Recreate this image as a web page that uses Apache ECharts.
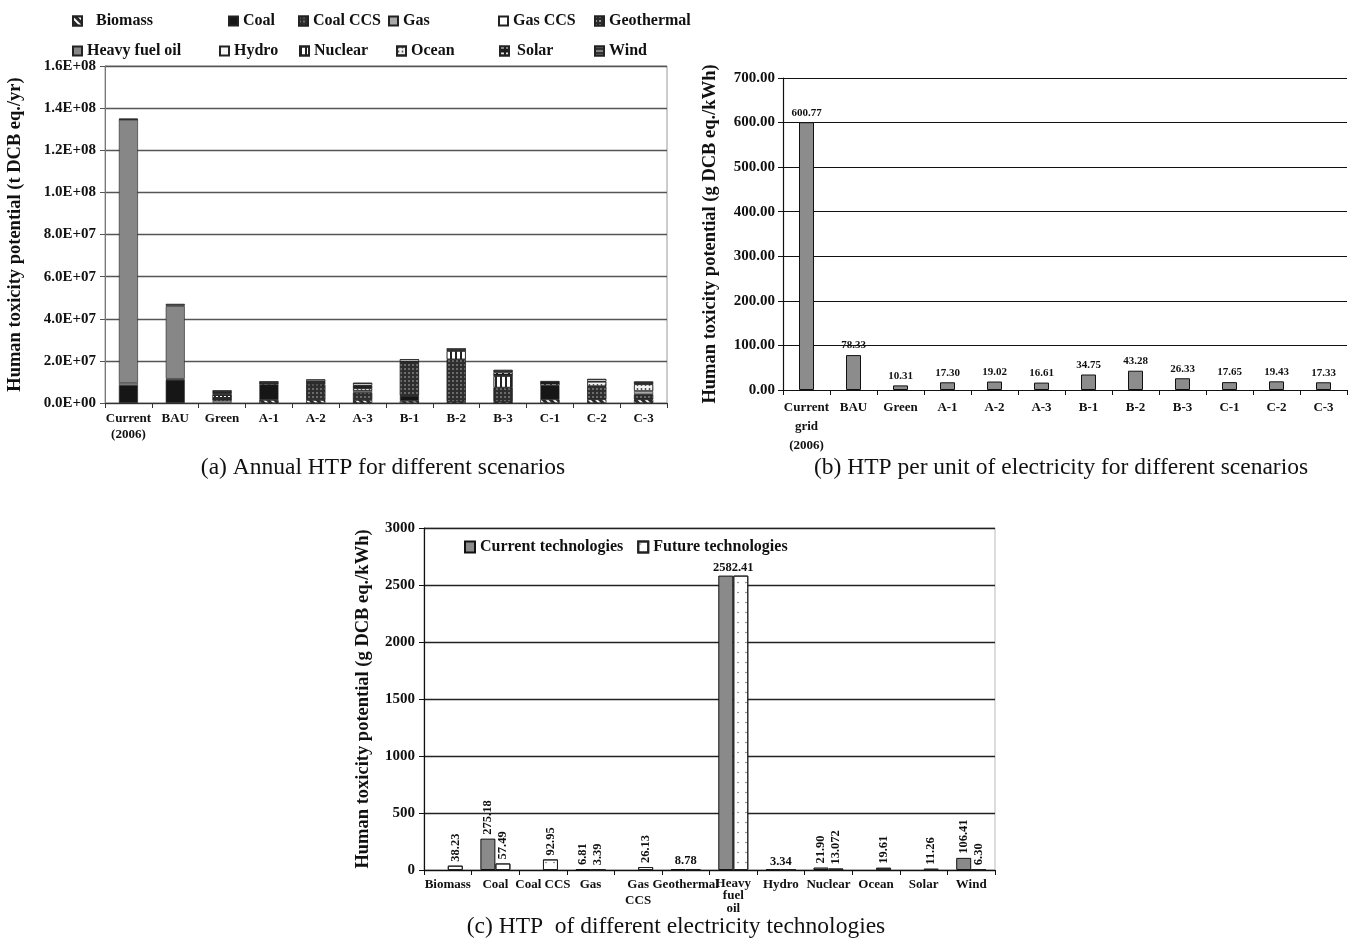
<!DOCTYPE html>
<html><head><meta charset="utf-8">
<script src="https://cdn.jsdelivr.net/npm/echarts@6/dist/echarts.min.js"></script>
<style>html,body{margin:0;padding:0;background:#fff}#c{width:1352px;height:939px}</style>
</head><body><div id="c"></div>
<script>
// ---------- DATA ----------
const scenarioCats = ['Current\n(2006)','BAU','Green','A-1','A-2','A-3','B-1','B-2','B-3','C-1','C-2','C-3'];
const techNames = ['Biomass','Coal','Coal CCS','Gas','Gas CCS','Geothermal','Heavy fuel oil','Hydro','Nuclear','Ocean','Solar','Wind'];
// (a) annual HTP, t DCB eq./yr, per technology per scenario
const biomassA    = [0, 0, 0, 1.4e6, 1.4e6, 1.4e6, 1.0e6, 0.6e6, 0.6e6, 1.7e6, 1.7e6, 1.7e6];
const coalA       = [8.5e6, 1.1e7, 0, 7.3e6, 0, 0, 2.4e6, 0, 0, 6.8e6, 0, 0];
const coalCcsA    = [0, 0, 0, 0, 7.3e6, 3.6e6, 1.63e7, 2.01e7, 6.7e6, 0, 6.3e6, 2.4e6];
const gasA        = [1.0e6, 0.5e6, 1.1e6, 0, 0, 0.8e6, 0, 0, 0, 0, 0, 1.6e6];
const gasCcsA     = [0, 0, 0, 0, 0, 0, 0, 0, 0, 0, 0, 0];
const geothermalA = [0, 0, 2.9e6, 0, 0.8e6, 0, 0, 0, 0, 0, 0, 0];
const hfoA        = [1.25e8, 3.45e7, 0, 0, 0, 0, 0, 0, 0, 0, 0, 0];
const hydroA      = [0, 0.5e6, 0, 0, 0, 0, 0, 0, 0, 0, 0, 0];
const nuclearA    = [0, 0, 0, 0, 0, 0, 0, 4.0e6, 5.5e6, 0, 0, 0];
const oceanA      = [0, 0, 0.6e6, 0, 0, 1.2e6, 0, 0, 0, 0, 2.1e6, 3.2e6];
const solarA      = [0, 0, 0.6e6, 0.8e6, 0.9e6, 1.2e6, 0, 0, 1.6e6, 1.9e6, 0, 0];
const windA       = [0.5e6, 0.5e6, 0.8e6, 0.8e6, 0.8e6, 1.4e6, 1.1e6, 1.3e6, 1.3e6, 0, 1.3e6, 1.3e6];

// (b) HTP per kWh, g DCB eq./kWh
const scenarioCatsB = ['Current\ngrid\n(2006)','BAU','Green','A-1','A-2','A-3','B-1','B-2','B-3','C-1','C-2','C-3'];
const perKwhB = [600.77, 78.33, 10.31, 17.30, 19.02, 16.61, 34.75, 43.28, 26.33, 17.65, 19.43, 17.33];

// (c) HTP of technologies, g DCB eq./kWh
const techCatsC = ['Biomass','Coal','Coal CCS','Gas','Gas\nCCS','Geothermal','Heavy\nfuel\noil','Hydro','Nuclear','Ocean','Solar','Wind'];
const currentC = [null, 275.18, null, 6.81, null, 8.78, 2582.41, 3.34, 21.90, null, null, 106.41];
const futureC  = [38.23, 57.49, 92.95, 3.39, 26.13, 8.78, 2582.41, 3.34, 13.072, 19.61, 11.26, 6.30];
const futureLabelTextC = ['38.23','57.49','92.95','3.39','26.13','','','','13.072','19.61','11.26','6.30'];
const currentLabelTextC = ['','275.18','','6.81','','8.78','2582.41','3.34','21.90','','','106.41'];

// ---------- STYLE / BUILD ----------
const FF = '"Liberation Serif","Times New Roman",serif';
const chart = echarts.init(document.getElementById('c'), null, {renderer:'canvas'});

const valuesA = [biomassA, coalA, coalCcsA, gasA, gasCcsA, geothermalA, hfoA, hydroA, nuclearA, oceanA, solarA, windA];
const stylesA = [
  {color:'#2a2a2a', decal:{symbol:'rect', color:'#ffffff', dashArrayX:[1,0], dashArrayY:[1.5,2.5], rotation:Math.PI/4}},
  {color:'#161616'},
  {color:'#2e2e2e', decal:{symbol:'circle', symbolSize:0.7, color:'#d8d8d8', dashArrayX:[2,1.5], dashArrayY:[2,1.5]}},
  {color:'#a9a9a9'},
  {color:'#ffffff'},
  {color:'#2a2a2a', decal:{symbol:'rect', color:'#ffffff', dashArrayX:[2,2], dashArrayY:[1,3]}},
  {color:'#878787'},
  {color:'#f4f4f4'},
  {color:'#ffffff', decal:{symbol:'rect', color:'#222222', dashArrayX:[1.2,2.3], dashArrayY:[1,0]}},
  {color:'#f2f2f2', decal:{symbol:'circle', symbolSize:0.9, color:'#444444', dashArrayX:[3,1], dashArrayY:[2,2]}},
  {color:'#1c1c1c', decal:{symbol:'rect', color:'#e8e8e8', dashArrayX:[4,2], dashArrayY:[1.2,4]}},
  {color:'#333333', decal:{symbol:'rect', color:'#cfcfcf', dashArrayX:[1,0], dashArrayY:[1,3]}}
];

const seriesA = techNames.map((n, i) => ({
  name: n, type:'bar', stack:'a', xAxisIndex:0, yAxisIndex:0, barWidth:19,
  data: valuesA[i].map(v => v ? v : null),
  itemStyle: Object.assign({borderColor:'#222', borderWidth:0.6}, stylesA[i]),
  emphasis:{disabled:true}
}));

// legend layout for (a): icon left x per row/col and extra text padding
const legIconX = [[67, 223, 293, 383, 493, 589],[67, 214, 294, 391, 494, 589]];
const legTextPad = [[9, 0, 0, 0, 0, 0],[0, 0, 0, 0, 3, 0]];
const legendsA = techNames.map((n, i) => {
  const row = Math.floor(i / 6), col = i % 6;
  return {
    data:[n], left: legIconX[row][col], top: row === 0 ? 8 : 38,
    itemWidth:9, itemHeight:9, icon:'rect', selectedMode:false,
    textStyle:{fontFamily:FF, fontWeight:'bold', fontSize:16, color:'#111', padding:[0,0,0,legTextPad[row][col]]}
  };
});

function expFmt(v){
  if (v === 0) return '0.0E+00';
  const e = Math.floor(Math.log10(v) + 1e-9);
  const m = (v / Math.pow(10, e)).toFixed(1);
  return m + 'E+' + String(e).padStart(2, '0');
}

const axisLbl = (sz) => ({fontFamily:FF, fontWeight:'bold', fontSize:sz, color:'#111'});
const nameSt = {fontFamily:FF, fontWeight:'bold', fontSize:18.5, color:'#111'};

const catLineHeightC = {'Gas\nCCS':16, 'Heavy\nfuel\noil':12.5};
const techCatItemsC = techCatsC.map(c => catLineHeightC[c] ? {value:c, textStyle:{lineHeight:catLineHeightC[c]}} : c);

const option = {
  animation:false,
  backgroundColor:'#fff',
  legend: legendsA.concat([{
    data:['Current technologies','Future technologies'], left:459, top:534,
    itemWidth:10, itemHeight:11, icon:'rect', itemGap:14, selectedMode:false,
    textStyle:{fontFamily:FF, fontWeight:'bold', fontSize:16, color:'#111'}
  }]),
  grid:[
    {left:105, top:66, width:562, height:337, show:true, borderColor:'#9a9a9a', borderWidth:1, backgroundColor:'transparent'},
    {left:783, top:78, width:564, height:312},
    {left:424, top:528, width:571, height:342, show:true, borderColor:'#bbbbbb', borderWidth:1, backgroundColor:'transparent'}
  ],
  xAxis:[
    {type:'category', gridIndex:0, data:scenarioCats,
     axisLine:{lineStyle:{color:'#333', width:1.2}}, axisTick:{show:true, length:5, lineStyle:{color:'#333'}},
     axisLabel:Object.assign({interval:0, margin:8, lineHeight:16}, axisLbl(13))},
    {type:'category', gridIndex:1, data:scenarioCatsB,
     axisLine:{lineStyle:{color:'#111', width:1.2}}, axisTick:{show:true, length:5, lineStyle:{color:'#111'}},
     axisLabel:Object.assign({interval:0, margin:8, lineHeight:19}, axisLbl(13))},
    {type:'category', gridIndex:2, data:techCatItemsC,
     axisLine:{lineStyle:{color:'#111', width:1.2}}, axisTick:{show:true, length:5, lineStyle:{color:'#111'}},
     axisLabel:Object.assign({interval:0, margin:7, lineHeight:15}, axisLbl(13))}
  ],
  yAxis:[
    {type:'value', gridIndex:0, min:0, max:1.6e8, interval:2e7,
     name:'Human toxicity potential (t DCB eq./yr)', nameLocation:'middle', nameGap:80, nameTextStyle:nameSt,
     axisLine:{show:true, lineStyle:{color:'#777'}}, axisTick:{show:true, length:5, lineStyle:{color:'#555'}},
     splitLine:{lineStyle:{color:'#555', width:1.3}},
     axisLabel:Object.assign({formatter:expFmt, margin:9}, axisLbl(15))},
    {type:'value', gridIndex:1, min:0, max:700, interval:100,
     name:'Human toxicity potential (g DCB eq./kWh)', nameLocation:'middle', nameGap:63, nameTextStyle:nameSt,
     axisLine:{show:true, lineStyle:{color:'#111', width:1.2}}, axisTick:{show:true, length:5, lineStyle:{color:'#111'}},
     splitLine:{lineStyle:{color:'#111', width:1.2}},
     axisLabel:Object.assign({formatter:v => v.toFixed(2), margin:8}, axisLbl(15))},
    {type:'value', gridIndex:2, min:0, max:3000, interval:500,
     name:'Human toxicity potential (g DCB eq./kWh)', nameLocation:'middle', nameGap:51, nameTextStyle:nameSt,
     axisLine:{show:true, lineStyle:{color:'#111', width:1.2}}, axisTick:{show:true, length:5, lineStyle:{color:'#111'}},
     splitLine:{lineStyle:{color:'#222', width:1.4}},
     axisLabel:Object.assign({formatter:v => String(v), margin:9}, axisLbl(15))}
  ],
  series: seriesA.concat([
    {type:'bar', name:'perkwh', xAxisIndex:1, yAxisIndex:1, barWidth:15, data:perKwhB,
     itemStyle:{color:'#8c8c8c', borderColor:'#111', borderWidth:1},
     label:{show:true, position:'top', distance:4, formatter:p => p.value.toFixed(2), fontFamily:FF, fontWeight:'bold', fontSize:11, color:'#111'},
     emphasis:{disabled:true}},
    {type:'bar', name:'Current technologies', xAxisIndex:2, yAxisIndex:2, barWidth:15, barGap:'0%',
     data: currentC.map((v, i) => {
       const horiz = (futureC[i] === v);
       return {value:v, label:{show: !!currentLabelTextC[i], formatter: currentLabelTextC[i],
         rotate: horiz ? 0 : 90, align: horiz ? 'center' : 'left', verticalAlign:'middle',
         position:'top', distance: horiz ? 8 : 4, offset: horiz ? [7.5, 0] : [0, 0]}};
     }),
     itemStyle:{color:'#8a8a8a', borderColor:'#111', borderWidth:1},
     label:{fontFamily:FF, fontWeight:'bold', fontSize:12.5, color:'#111'},
     emphasis:{disabled:true}},
    {type:'bar', name:'Future technologies', xAxisIndex:2, yAxisIndex:2, barWidth:15, barGap:'0%',
     data: futureC.map((v, i) => ({value:v, label:{show: !!futureLabelTextC[i], formatter: futureLabelTextC[i],
       rotate:90, align:'left', verticalAlign:'middle', position:'top', distance:4}})),
     itemStyle:{color:'#ffffff', borderColor:'#222', borderWidth:1,
       decal:{symbol:'circle', symbolSize:0.35, color:'#555', dashArrayX:[4,4], dashArrayY:[5,5]}},
     label:{fontFamily:FF, fontWeight:'bold', fontSize:12.5, color:'#111'},
     emphasis:{disabled:true}}
  ]),
  graphic:[
    {type:'text', x:383, y:468, style:{text:'(a) Annual HTP for different scenarios', font:'23.5px '+FF, fill:'#111', textAlign:'center', textVerticalAlign:'middle'}},
    {type:'text', x:1061, y:468, style:{text:'(b) HTP per unit of electricity for different scenarios', font:'23.5px '+FF, fill:'#111', textAlign:'center', textVerticalAlign:'middle'}},
    {type:'text', x:676, y:927, style:{text:'(c) HTP  of different electricity technologies', font:'23.5px '+FF, fill:'#111', textAlign:'center', textVerticalAlign:'middle'}}
  ]
};
chart.setOption(option);
</script>
</body></html>
